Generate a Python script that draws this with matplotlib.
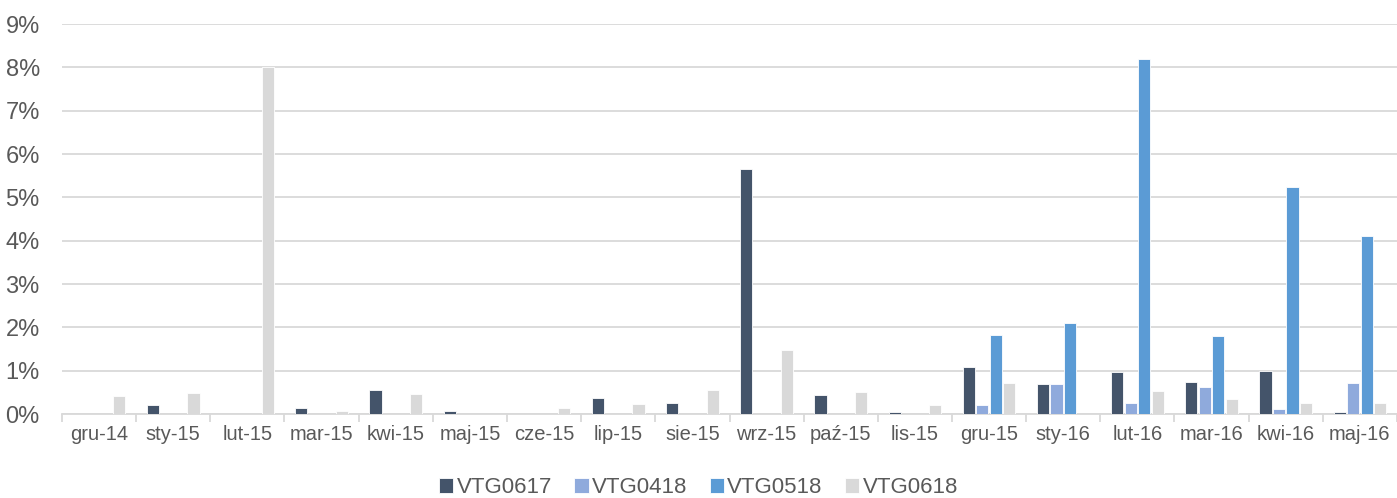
import matplotlib
matplotlib.use("Agg")
import matplotlib.pyplot as plt
import numpy as np
from matplotlib.ticker import FuncFormatter, FixedLocator

plt.rcParams['font.family'] = ['Liberation Sans', 'DejaVu Sans']

months = ["gru-14", "sty-15", "lut-15", "mar-15", "kwi-15", "maj-15", "cze-15",
          "lip-15", "sie-15", "wrz-15", "paź-15", "lis-15", "gru-15", "sty-16",
          "lut-16", "mar-16", "kwi-16", "maj-16"]

vtg0617 = [0.00, 0.20, 0.00, 0.15, 0.55, 0.07, 0.00, 0.38, 0.25, 5.66, 0.45, 0.05,
           1.08, 0.70, 0.97, 0.75, 0.99, 0.05]
vtg0418 = [0, 0, 0, 0, 0, 0, 0, 0, 0, 0, 0, 0,
           0.21, 0.69, 0.25, 0.62, 0.12, 0.72]
vtg0518 = [0, 0, 0, 0, 0, 0, 0, 0, 0, 0, 0, 0,
           1.82, 2.09, 8.20, 1.80, 5.24, 4.11]
vtg0618 = [0.42, 0.48, 8.00, 0.06, 0.47, 0.00, 0.14, 0.23, 0.55, 1.47, 0.51, 0.21,
           0.72, 0.00, 0.52, 0.35, 0.25, 0.25]

series = [("VTG0617", vtg0617, "#44546A"),
          ("VTG0418", vtg0418, "#8FAADC"),
          ("VTG0518", vtg0518, "#5B9BD5"),
          ("VTG0618", vtg0618, "#D9D9D9")]

fig = plt.figure(figsize=(13.97, 4.98), dpi=100)
ax = fig.add_axes([62 / 1397, 1 - 414 / 498, (1397 - 62) / 1397, (414 - 24) / 498])

x = np.arange(len(months))
slot = 0.182
bw = 0.165
for i, (name, vals, col) in enumerate(series):
    ax.bar(x + (i - 1.5) * slot, vals, width=bw, color=col, label=name,
           edgecolor="white", linewidth=0.6, zorder=3)

ax.set_xlim(-0.5, len(months) - 0.5)
ax.set_ylim(0, 9)
ax.set_yticks(np.arange(0, 10, 1))
ax.yaxis.set_major_formatter(FuncFormatter(lambda v, p: f"{int(v)}%"))
ax.grid(axis="y", color="#D9D9D9", linewidth=1.3, zorder=0)
ax.set_axisbelow(True)

ax.set_xticks(x)
ax.set_xticklabels(months)
ax.xaxis.set_minor_locator(FixedLocator(np.arange(-0.5, len(months), 1)))
ax.tick_params(axis="x", which="major", length=0, labelsize=14.5, colors="#595959", pad=8)
ax.tick_params(axis="x", which="minor", length=6, width=1.3, color="#D9D9D9")
ax.tick_params(axis="y", length=0, labelsize=17, colors="#595959", pad=16)

for s in ["top", "right", "left"]:
    ax.spines[s].set_visible(False)
ax.spines["bottom"].set_color("#D9D9D9")
ax.spines["bottom"].set_linewidth(1.3)

leg = fig.legend(loc="lower center", bbox_to_anchor=(0.5, -0.04), ncol=4, frameon=False,
                 fontsize=16, handlelength=0.65, handleheight=0.65, handletextpad=0.15,
                 columnspacing=1.0)
for t in leg.get_texts():
    t.set_color("#595959")

fig.savefig("out.png", dpi=100)
